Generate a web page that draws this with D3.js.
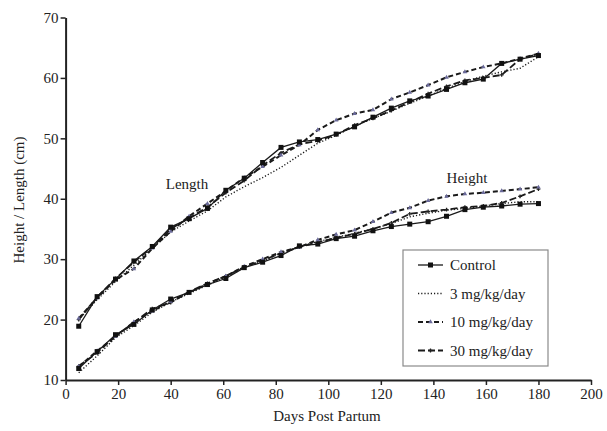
<!DOCTYPE html>
<html>
<head>
<script src="https://cdnjs.cloudflare.com/ajax/libs/d3/7.8.5/d3.min.js"></script>
<style>
  body { margin: 0; background: #fff; }
  text { font-family: "Liberation Serif", "DejaVu Serif", serif; fill: #222; }
</style>
</head>
<body>
<div id="chart"></div>
<script>
var days = [5, 12, 19, 26, 33, 40, 47, 54, 61, 68, 75, 82, 89, 96, 103, 110, 117, 124, 131, 138, 145, 152, 159, 166, 173, 180];

var groups = ["Control", "3 mg/kg/day", "10 mg/kg/day", "30 mg/kg/day"];

// Length (cm)
var lengthControl = [18.9, 23.8, 26.7, 29.7, 32.1, 35.3, 36.7, 38.4, 41.4, 43.4, 46.0, 48.5, 49.4, 49.8, 50.7, 51.9, 53.5, 55.0, 56.2, 57.0, 58.1, 59.2, 59.8, 62.4, 63.1, 63.7];
var length3 = [20.0, 23.3, 26.3, 29.0, 31.8, 34.5, 36.3, 38.0, 40.3, 42.0, 43.5, 45.2, 47.2, 49.2, 50.5, 52.0, 53.3, 54.5, 55.8, 57.0, 58.3, 59.4, 60.3, 61.0, 61.6, 63.5];
var length10 = [20.2, 23.6, 26.6, 28.4, 31.8, 34.6, 37.1, 39.2, 41.3, 43.5, 45.3, 47.2, 48.9, 51.4, 53.0, 54.1, 54.7, 56.5, 57.6, 58.8, 60.1, 61.0, 61.8, 62.4, 63.2, 64.0];
var length30 = [20.0, 23.7, 26.8, 29.5, 32.0, 35.0, 36.8, 38.6, 41.0, 43.0, 45.5, 47.6, 49.0, 49.6, 50.6, 52.2, 53.3, 54.6, 56.0, 57.4, 58.6, 59.6, 60.0, 60.5, 63.1, 64.0];

// Height (cm)
var heightControl = [11.9, 14.7, 17.5, 19.2, 21.6, 23.4, 24.5, 25.8, 26.8, 28.6, 29.5, 30.6, 32.2, 32.5, 33.4, 33.8, 34.7, 35.4, 35.8, 36.2, 37.1, 38.2, 38.6, 38.8, 39.1, 39.2];
var height3 = [11.2, 14.0, 17.0, 19.0, 21.2, 22.9, 24.3, 25.7, 27.0, 28.6, 29.7, 31.0, 32.1, 32.9, 33.6, 34.3, 35.0, 35.9, 37.0, 37.6, 38.1, 38.4, 38.8, 39.2, 39.5, 39.5];
var height10 = [12.2, 14.8, 17.2, 19.6, 21.4, 23.0, 24.5, 25.9, 27.2, 28.8, 30.0, 31.2, 32.0, 33.2, 34.1, 34.8, 36.2, 37.7, 38.5, 39.7, 40.4, 40.8, 41.0, 41.3, 41.6, 41.9];
var height30 = [12.3, 14.5, 17.3, 19.5, 21.8, 22.8, 24.6, 26.0, 27.2, 28.7, 29.8, 31.0, 32.0, 32.8, 33.5, 34.2, 35.0, 36.0, 37.5, 37.9, 38.2, 38.6, 38.8, 39.3, 40.4, 41.6];

var xTicks = [0, 20, 40, 60, 80, 100, 120, 140, 160, 180, 200];
var yTicks = [10, 20, 30, 40, 50, 60, 70];

var width = 607, height = 431;

var svg = d3.select("#chart").append("svg")
  .attr("width", width)
  .attr("height", height);

var x = d3.scaleLinear().domain([0, 200]).range([65.6, 591]);
var y = d3.scaleLinear().domain([10, 70]).range([380, 17.5]);

// line styles per group
var styles = [
  { dash: null, w: 1.3, marker: "square", mcolor: "#111" },
  { dash: "1.2,2", w: 1.4, marker: null, mcolor: "#111" },
  { dash: "5,3", w: 2, marker: "triangle", mcolor: "#6a6a9a" },
  { dash: "7,3", w: 1.8, marker: "cross", mcolor: "#222" }
];

var lengthSeries = [lengthControl, length3, length10, length30];
var heightSeries = [heightControl, height3, height10, height30];

var line = d3.line()
  .x(function(d) { return x(d[0]); })
  .y(function(d) { return y(d[1]); });

function drawMarker(g, px, py, s) {
  if (s.marker == "square") {
    g.append("rect").attr("x", px - 2.5).attr("y", py - 2.5)
      .attr("width", 5).attr("height", 5).attr("fill", s.mcolor);
  } else if (s.marker == "triangle") {
    g.append("path").attr("d", d3.symbol().type(d3.symbolTriangle).size(9)())
      .attr("transform", "translate(" + px + "," + py + ")")
      .attr("fill", s.mcolor);
  } else if (s.marker == "cross") {
    g.append("path").attr("d", d3.symbol().type(d3.symbolCross).size(8)())
      .attr("transform", "translate(" + px + "," + py + ")")
      .attr("fill", s.mcolor);
  }
}

function drawSeries(vals, i) {
  var s = styles[i];
  var pts = days.map(function(d, k) { return [d, vals[k]]; });
  var g = svg.append("g");
  g.append("path")
    .attr("d", line(pts))
    .attr("fill", "none")
    .attr("stroke", "#1a1a1a")
    .attr("stroke-width", s.w)
    .attr("stroke-dasharray", s.dash);
  pts.forEach(function(p) { drawMarker(g, x(p[0]), y(p[1]), s); });
}

// draw order: dotted first, solid on top
[1, 3, 2, 0].forEach(function(i) {
  drawSeries(lengthSeries[i], i);
  drawSeries(heightSeries[i], i);
});

// axes
var xAxis = d3.axisBottom(x).tickValues(xTicks).tickSize(5).tickSizeOuter(0);
var yAxis = d3.axisLeft(y).tickValues(yTicks).tickSize(5).tickSizeOuter(0);

var gx = svg.append("g").attr("transform", "translate(0," + y(10) + ")").call(xAxis);
var gy = svg.append("g").attr("transform", "translate(" + x(0) + ",0)").call(yAxis);

[gx, gy].forEach(function(g) {
  g.selectAll(".domain").attr("stroke", "#222").attr("stroke-width", 2);
  g.selectAll(".tick line").attr("stroke", "#222").attr("stroke-width", 1.5);
  g.selectAll(".tick text").attr("font-size", "15px")
    .attr("font-family", "Liberation Serif, serif").attr("fill", "#333");
});
gy.selectAll(".tick text").attr("x", -7);
gx.selectAll(".tick text").attr("y", 8);

// axis titles
svg.append("text")
  .attr("x", 327).attr("y", 421)
  .attr("text-anchor", "middle")
  .attr("font-size", "15px")
  .text("Days Post Partum");

svg.append("text")
  .attr("transform", "translate(24,200) rotate(-90)")
  .attr("text-anchor", "middle")
  .attr("font-size", "15px")
  .text("Height / Length (cm)");

// curve labels
svg.append("text").attr("x", 187).attr("y", 189)
  .attr("text-anchor", "middle").attr("font-size", "15px").text("Length");
svg.append("text").attr("x", 467).attr("y", 183)
  .attr("text-anchor", "middle").attr("font-size", "15px").text("Height");

// legend
var legend = svg.append("g").attr("transform", "translate(403,250)");
legend.append("rect")
  .attr("width", 145).attr("height", 116)
  .attr("fill", "#fff").attr("stroke", "#8a8a8a").attr("stroke-width", 1.2);

groups.forEach(function(name, i) {
  var s = styles[i];
  var ly = 15 + i * 28.5;
  var row = legend.append("g");
  row.append("line")
    .attr("x1", 15).attr("x2", 40).attr("y1", ly).attr("y2", ly)
    .attr("stroke", "#1a1a1a").attr("stroke-width", s.w)
    .attr("stroke-dasharray", s.dash);
  drawMarker(row, 27.5, ly, s);
  row.append("text")
    .attr("x", 47).attr("y", ly + 5)
    .attr("font-size", "15px")
    .text(name);
});
</script>
</body>
</html>
